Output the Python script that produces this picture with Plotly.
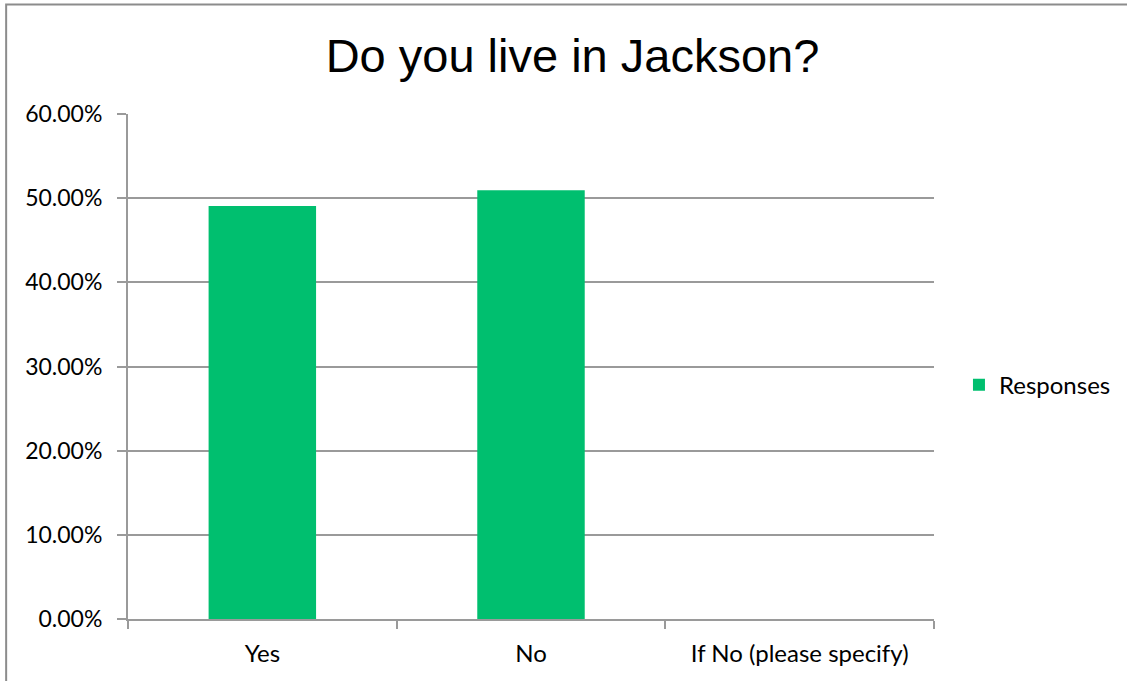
import plotly.graph_objects as go

categories = ["Yes", "No", "If No (please specify)"]
responses = [0.4906, 0.5094, 0.0]
y_ticks = [0, 0.1, 0.2, 0.3, 0.4, 0.5, 0.6]

GREEN = "#00BF6F"
GRID = "#9a9a9a"

fig = go.Figure()
fig.add_trace(go.Bar(
    x=categories, y=responses, name="Responses",
    marker=dict(color=GREEN, line=dict(width=0)),
    width=0.4,
))

fig.update_layout(
    width=1127, height=681,
    paper_bgcolor="white", plot_bgcolor="white",
    margin=dict(l=128, r=192, t=114, b=62),
    title=dict(text="Do you live in Jackson?", x=0.508, xanchor="center",
               y=0.918, yanchor="middle", yref="container",
               font=dict(family="Liberation Sans, Arial", size=47, color="black")),
    font=dict(family="Lato", color="black"),
    showlegend=True,
    legend=dict(x=1.0297, xanchor="left", y=0.463, yanchor="middle",
                font=dict(family="Lato", size=24, color="black"),
                itemwidth=30, bgcolor="rgba(0,0,0,0)"),
    bargap=0.6,
)

fig.update_xaxes(
    type="category", showline=True, linecolor=GRID, linewidth=2,
    ticks="outside", tickson="boundaries", ticklen=8, tickcolor=GRID, tickwidth=2,
    tickfont=dict(family="Lato", size=24, color="black"),
    ticklabelstandoff=12,
    showgrid=False, zeroline=False,
)
fig.update_yaxes(
    range=[0, 0.6], tickvals=y_ticks, tickformat=".2%",
    showline=True, linecolor=GRID, linewidth=2,
    ticks="outside", ticklen=9, tickcolor=GRID, tickwidth=2,
    tickfont=dict(family="Lato", size=23, color="black"),
    ticklabelstandoff=10,
    showgrid=True, gridcolor=GRID, gridwidth=2, zeroline=False,
)

# outer chart border (only top and left edges fall inside the picture)
fig.add_shape(type="rect", xref="paper", yref="paper",
              x0=(6 - 128) / 807, x1=(1140 - 128) / 807,
              y0=(619 - 700) / 505, y1=(619 - 4.5) / 505,
              line=dict(color="#8c8c8c", width=2), fillcolor="rgba(0,0,0,0)",
              layer="below")

fig.write_html("out.html", config={"displayModeBar": False},
               post_script="document.body.style.margin='0';document.body.style.overflow='hidden';")
